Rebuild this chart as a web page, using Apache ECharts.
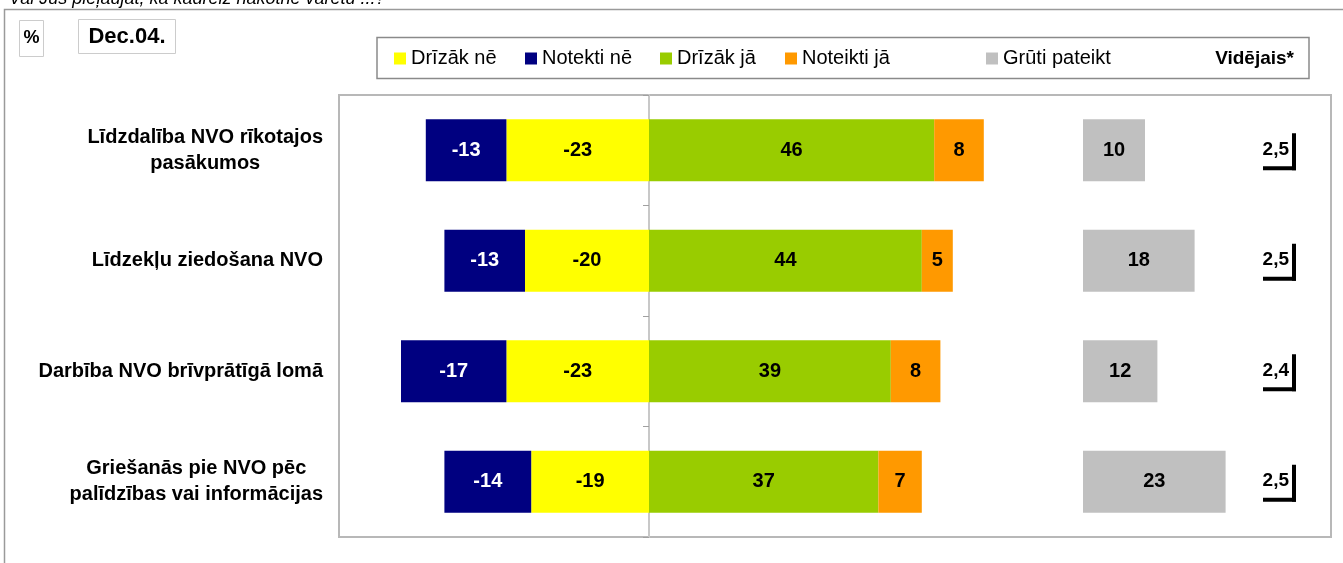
<!DOCTYPE html>
<html>
<head>
<meta charset="utf-8">
<script src="https://cdn.jsdelivr.net/npm/echarts@6/dist/echarts.min.js"></script>
<style>
html,body{margin:0;padding:0;background:#fff;}
#c{width:1343px;height:563px;}
</style>
</head>
<body>
<div id="c"></div>
<script>
// ---- data ----
var titleText = 'Vai Jūs pieļaujat, ka kādreiz nākotnē varētu ...?';
var categories = [
  'Līdzdalība NVO rīkotajos\npasākumos',
  'Līdzekļu ziedošana NVO',
  'Darbība NVO brīvprātīgā lomā',
  'Griešanās pie NVO pēc\npalīdzības vai informācijas'
];
var seriesNames = ['Drīzāk nē', 'Notekti nē', 'Drīzāk jā', 'Noteikti jā', 'Grūti pateikt'];
var drizakNe   = [-23, -20, -23, -19];
var noteiktiNe = [-13, -13, -17, -14];
var drizakJa   = [46, 44, 39, 37];
var noteiktiJa = [8, 5, 8, 7];
var gruti      = [10, 18, 12, 23];
var videjais   = [2.5, 2.5, 2.4, 2.5];

var FONT = "'Liberation Sans', Arial, sans-serif";
var colors = ['#FFFF00', '#000080', '#99CC00', '#FF9900', '#C0C0C0'];

var chart = echarts.init(document.getElementById('c'), null, {renderer: 'canvas'});

function barSeries(name, data, color, labelColor, stack) {
  return {
    name: name, type: 'bar', stack: stack, data: data,
    xAxisIndex: 0, yAxisIndex: 0,
    barWidth: 62, barGap: '-100%',
    itemStyle: {color: color},
    label: {show: true, position: 'inside', color: labelColor,
            fontFamily: FONT, fontWeight: 'bold', fontSize: 20},
    emphasis: {disabled: true}
  };
}

var legendLefts = [394, 525, 660, 785, 986];
var legends = seriesNames.map(function (n, i) {
  return {
    data: [n], left: legendLefts[i], top: 48.5, padding: 0,
    itemWidth: 12, itemHeight: 12, itemGap: 0,
    icon: 'rect',
    textStyle: {fontFamily: FONT, fontSize: 20, color: '#000', lineHeight: 20},
    selectedMode: false
  };
});

var series = [
  barSeries(seriesNames[0], drizakNe, colors[0], '#000', 'a'),
  barSeries(seriesNames[1], noteiktiNe, colors[1], '#fff', 'a'),
  barSeries(seriesNames[2], drizakJa, colors[2], '#000', 'a'),
  barSeries(seriesNames[3], noteiktiJa, colors[3], '#000', 'a'),
  Object.assign(barSeries(seriesNames[4], gruti, colors[4], '#000', 'b'), {xAxisIndex: 1}),
  {
    name: 'Vidējais*', type: 'custom', xAxisIndex: 0, yAxisIndex: 0,
    data: videjais.map(function (v, i) { return [0, i, v]; }),
    encode: {x: 0, y: 1},
    silent: true,
    renderItem: function (params, api) {
      var cs = params.coordSys;
      var cy = api.coord([0, api.value(1)])[1];
      var right = cs.x + cs.width;
      var txt = String(api.value(2)).replace('.', ',');
      return {
        type: 'group',
        children: [
          {type: 'rect', shape: {x: right - 39, y: cy - 17, width: 4, height: 37}, style: {fill: '#000'}},
          {type: 'rect', shape: {x: right - 68, y: cy + 16, width: 33, height: 4}, style: {fill: '#000'}},
          {type: 'text', x: right - 42, y: cy - 0.5,
           style: {text: txt, align: 'right', verticalAlign: 'middle',
                   font: 'bold 19px ' + FONT, fill: '#000'}}
        ]
      };
    }
  }
];

var option = {
  animation: false,
  backgroundColor: '#fff',
  legend: legends,
  grid: {left: 339, top: 95, width: 992, height: 442, show: true,
         borderColor: '#b8b8b8', borderWidth: 2, backgroundColor: 'transparent'},
  xAxis: [
    {type: 'value', min: -50, max: 110, show: false, splitLine: {show: false}},
    {type: 'value', min: -120, max: 40, show: false, splitLine: {show: false}}
  ],
  yAxis: [
    {type: 'category', data: categories, inverse: true, position: 'left',
     axisLine: {show: false, onZero: false}, axisTick: {show: false}, splitLine: {show: false},
     axisLabel: {
       show: true, align: 'right', margin: 16,
       formatter: function (v) {
         return v.split('\n').map(function (l) { return '{c|' + l + '}'; }).join('\n');
       },
       rich: {c: {align: 'center', fontFamily: FONT, fontWeight: 'bold', fontSize: 20,
                  lineHeight: 26, color: '#000'}}
     }},
    {type: 'category', data: categories, inverse: true, position: 'left',
     axisLine: {show: true, onZero: true, onZeroAxisIndex: 0, lineStyle: {color: '#c8c8c8', width: 2}},
     axisTick: {show: true, length: 6, lineStyle: {color: '#a0a0a0', width: 1}},
     axisLabel: {show: false}, splitLine: {show: false}}
  ],
  graphic: [
    {type: 'rect', shape: {x: 4.5, y: 9.5, width: 1400, height: 700},
     style: {fill: 'none', stroke: '#9a9a9a', lineWidth: 1.5}, silent: true, z: -10},
    {type: 'text', x: 9, y: -1,
     style: {text: titleText, font: 'italic 18px ' + FONT, fill: '#000',
             align: 'left', verticalAlign: 'middle'}},
    {type: 'rect', shape: {x: 19.5, y: 20.5, width: 24, height: 36},
     style: {fill: '#fff', stroke: '#cccccc', lineWidth: 1}},
    {type: 'text', x: 31.5, y: 38.5,
     style: {text: '%', font: 'bold 18px ' + FONT, fill: '#000', align: 'center', verticalAlign: 'middle'}},
    {type: 'rect', shape: {x: 78.5, y: 19.5, width: 97, height: 34},
     style: {fill: '#fff', stroke: '#cccccc', lineWidth: 1}},
    {type: 'text', x: 127, y: 36.5,
     style: {text: 'Dec.04.', font: 'bold 22px ' + FONT, fill: '#000', align: 'center', verticalAlign: 'middle'}},
    {type: 'rect', shape: {x: 377, y: 37.5, width: 932, height: 41},
     style: {fill: '#fff', stroke: '#8a8a8a', lineWidth: 1.5}, z: -1},
    {type: 'text', x: 1294, y: 58.5,
     style: {text: 'Vidējais*', font: 'bold 19px ' + FONT, fill: '#000', align: 'right', verticalAlign: 'middle'}}
  ],
  series: series
};
chart.setOption(option);
</script>
</body>
</html>
